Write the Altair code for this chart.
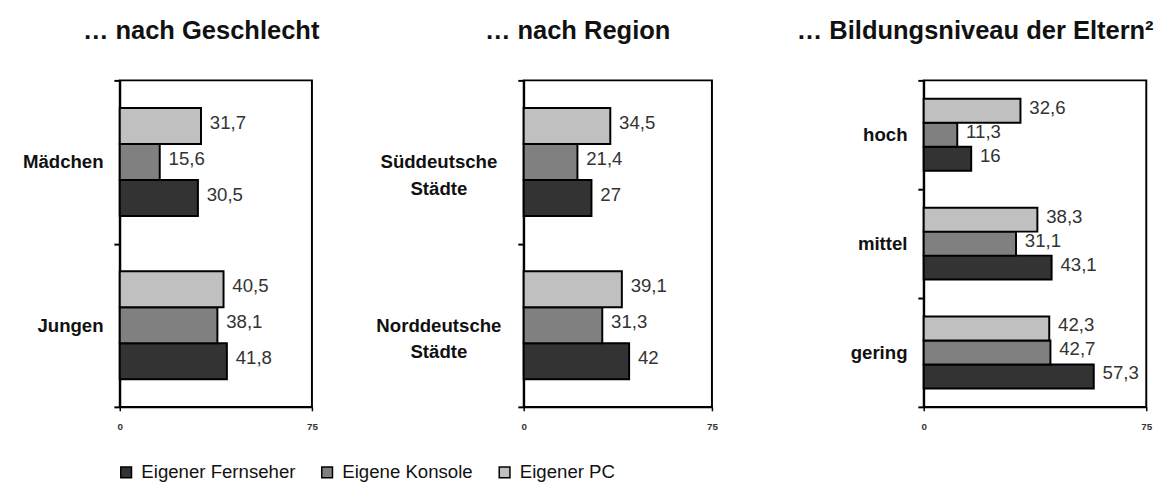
import altair as alt
import pandas as pd

# ---- data ----
series = ["Eigener Fernseher", "Eigene Konsole", "Eigener PC"]
colors = ["#333333", "#808080", "#c0c0c0"]

panel_titles = ["… nach Geschlecht", "… nach Region", "… Bildungsniveau der Eltern²"]

cats_geschlecht = ["Mädchen", "Jungen"]
tv_geschlecht = [30.5, 41.8]
konsole_geschlecht = [15.6, 38.1]
pc_geschlecht = [31.7, 40.5]

cats_region = ["Süddeutsche Städte", "Norddeutsche Städte"]
tv_region = [27, 42]
konsole_region = [21.4, 31.3]
pc_region = [34.5, 39.1]

cats_bildung = ["hoch", "mittel", "gering"]
tv_bildung = [16, 43.1, 57.3]
konsole_bildung = [11.3, 31.1, 42.7]
pc_bildung = [32.6, 38.3, 42.3]

x_ticks = [0, 75]

FONT = "Liberation Sans"


def make_df(cats, tv, ko, pc):
    rows = []
    for i, c in enumerate(cats):
        for s, vals in zip(series, [tv, ko, pc]):
            rows.append({"cat": c, "series": s, "value": vals[i]})
    return pd.DataFrame(rows)


def panel(df, cats, title, width, title_dx, label_align, label_padding, show_legend):
    base = alt.Chart(df).transform_calculate(
        label="replace(format(datum.value, '.1~f'), '.', ',')"
    )
    color_enc = alt.Color(
        "series:N",
        scale=alt.Scale(domain=series, range=colors),
        legend=alt.Legend(
            orient="none",
            direction="horizontal",
            legendX=-3,
            legendY=390,
            title=None,
            symbolType="square",
            symbolSize=120,
            symbolStrokeColor="black",
            symbolStrokeWidth=1.5,
            labelFont=FONT,
            labelFontSize=19,
            labelColor="#111111",
            columnPadding=22,
            labelOffset=6,
        ) if show_legend else None,
    )
    y_enc = alt.Y(
        "cat:N",
        sort=cats,
        scale=alt.Scale(paddingInner=0, paddingOuter=0),
        axis=alt.Axis(
            title=None,
            domainColor="black",
            domainWidth=2,
            tickColor="black",
            tickWidth=2,
            tickSize=6,
            tickBand="extent",
            labelFont=FONT,
            labelFontWeight="bold",
            labelFontSize=19,
            labelColor="#111111",
            labelAlign=label_align,
            labelPadding=label_padding,
            labelLineHeight=27,
            labelExpr="split(datum.label, ' ')",
        ),
    )
    yoff = alt.YOffset(
        "series:N",
        sort=["Eigener PC", "Eigene Konsole", "Eigener Fernseher"],
        scale=alt.Scale(paddingInner=0, paddingOuter=0.77),
    )
    x_enc = alt.X(
        "value:Q",
        scale=alt.Scale(domain=[0, 75], nice=False),
        axis=alt.Axis(
            title=None,
            values=x_ticks,
            grid=False,
            domainColor="black",
            domainWidth=2,
            tickColor="black",
            tickWidth=1.5,
            tickSize=4,
            labelFont=FONT,
            labelFontWeight="bold",
            labelFontSize=10,
            labelColor="#333333",
            labelPadding=11,
            labelFlush=False,
        ),
    )
    bars = base.mark_bar(stroke="black", strokeWidth=2).encode(
        x=x_enc, y=y_enc, yOffset=yoff, color=color_enc
    )
    texts = base.mark_text(
        align="left", baseline="middle", dx=9, dy=-3,
        font=FONT, fontSize=19, color="#333333"
    ).encode(
        x="value:Q", y=alt.Y("cat:N", sort=cats), yOffset=yoff, text="label:N"
    )
    return alt.layer(bars, texts).properties(
        width=width,
        height=333,
        view=alt.ViewBackground(stroke="black", strokeWidth=2),
        title=alt.TitleParams(
            title,
            font=FONT,
            fontSize=26,
            fontWeight="bold",
            color="#111111",
            anchor="middle",
            frame="group",
            dx=title_dx,
            offset=28,
        ),
    )


p1 = panel(make_df(cats_geschlecht, tv_geschlecht, konsole_geschlecht, pc_geschlecht),
           cats_geschlecht, panel_titles[0], 196, -15, "right", 11, True)
p2 = panel(make_df(cats_region, tv_region, konsole_region, pc_region),
           cats_region, panel_titles[1], 192, -41, "center", 81, False)
p3 = panel(make_df(cats_bildung, tv_bildung, konsole_bildung, pc_bildung),
           cats_bildung, panel_titles[2], 227, -61, "right", 11, False)

chart = alt.hconcat(p1, p2, p3, spacing=216, bounds="flush").resolve_scale(
    yOffset="independent", y="independent", x="independent", color="shared"
).properties(
    padding={"left": 13, "top": 5, "right": 5, "bottom": 5},
    background="white",
).configure_view(
    stroke="black", strokeWidth=2
)

chart.save("out.html", embed_options={"renderer": "svg", "actions": False})
